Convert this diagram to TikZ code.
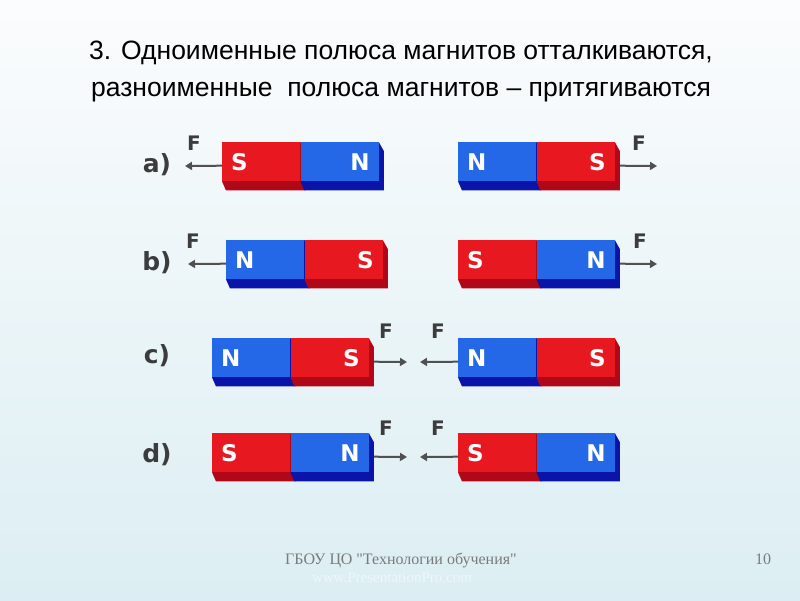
\documentclass[tikz,border=0pt]{standalone}
\usepackage{fontspec}
\setmainfont{Liberation Sans}
\newfontfamily\roundfont{DejaVu Sans}
\newfontfamily\footfont{Liberation Serif}
\usetikzlibrary{arrows.meta,calc,positioning}
\pgfdeclarelayer{bg}
\pgfsetlayers{bg,main}
\definecolor{magred}{HTML}{E81820}
\definecolor{magblue}{HTML}{2468E8}
\definecolor{darkred}{HTML}{B00818}
\definecolor{darkblue}{HTML}{0A14A8}
\definecolor{forcegray}{HTML}{505050}
\definecolor{labgray}{HTML}{3C3C3C}
\definecolor{bgtop}{HTML}{FBFCFD}
\definecolor{bgbot}{HTML}{DCEEF3}
\definecolor{footgray}{HTML}{7A7A7A}
\definecolor{wmark}{HTML}{EEF7FA}
\tikzset{
    every node/.style={inner sep=0pt},
    half/.style={minimum width=78pt, minimum height=39pt, inner xsep=9pt, text width=60pt,
        text=white, font=\roundfont\bfseries\fontsize{23}{23}\selectfont},
    redhalf/.style={half, fill=magred},
    bluehalf/.style={half, fill=magblue},
    force/.style={draw=forcegray, line width=2pt, -{Triangle[length=7pt,width=8pt]}},
    flabel/.style={font=\roundfont\bfseries\fontsize{20}{20}\selectfont, text=labgray},
    rowlabel/.style={font=\roundfont\bfseries\fontsize{25}{25}\selectfont, text=labgray}
}
\begin{document}
\begin{tikzpicture}[x=1pt, y=-1pt]
        \useasboundingbox (0,0) rectangle (800,600);
        % title
        \node (t1) [anchor=base, font=\fontsize{26.5}{26.5}\selectfont] at (401,59)
                {3. Одноименные полюса магнитов отталкиваются,};
        \node (t2) [anchor=base, font=\fontsize{26.5}{26.5}\selectfont] at (401,96)
                {разноименные \ полюса магнитов -- притягиваются};
        % row labels
        \node (la) [rowlabel] at (157,165) {a)};
        \node (lb) [rowlabel] at (157,263) {b)};
        \node (lc) [rowlabel] at (157,356) {c)};
        \node (ld) [rowlabel] at (157,455) {d)};
        % a)
        \node (aL1) [redhalf, align=left, anchor=north west] at (222,142) {S};
        \node (aL2) [bluehalf, align=right, right=0pt of aL1] {N};
        \node (aR1) [bluehalf, align=left, anchor=north west] at (458,142) {N};
        \node (aR2) [redhalf, align=right, right=0pt of aR1] {S};
        % b)
        \node (bL1) [bluehalf, align=left, anchor=north west] at (226,240) {N};
        \node (bL2) [redhalf, align=right, right=0pt of bL1] {S};
        \node (bR1) [redhalf, align=left, anchor=north west] at (458,240) {S};
        \node (bR2) [bluehalf, align=right, right=0pt of bR1] {N};
        % c)
        \node (cL1) [bluehalf, align=left, anchor=north west] at (212,338) {N};
        \node (cL2) [redhalf, align=right, right=0pt of cL1] {S};
        \node (cR1) [bluehalf, align=left, anchor=north west] at (458,338) {N};
        \node (cR2) [redhalf, align=right, right=0pt of cR1] {S};
        % d)
        \node (dL1) [redhalf, align=left, anchor=north west] at (212,433) {S};
        \node (dL2) [bluehalf, align=right, right=0pt of dL1] {N};
        \node (dR1) [redhalf, align=left, anchor=north west] at (458,433) {S};
        \node (dR2) [bluehalf, align=right, right=0pt of dR1] {N};
        % forces
        \coordinate (fa1) at (185,166);
        \coordinate (fa2) at (657,166);
        \coordinate (fb1) at (188,264);
        \coordinate (fb2) at (657,264);
        \coordinate (fc1) at (407,362);
        \coordinate (fc2) at (420,362);
        \coordinate (fd1) at (407,457);
        \coordinate (fd2) at (420,457);
        \node (Fa1) [flabel] at (194,143) {F};
        \node (Fa2) [flabel] at (639,143) {F};
        \node (Fb1) [flabel] at (193,241) {F};
        \node (Fb2) [flabel] at (640,241) {F};
        \node (Fc1) [flabel] at (386,331) {F};
        \node (Fc2) [flabel] at (438,331) {F};
        \node (Fd1) [flabel] at (386,428) {F};
        \node (Fd2) [flabel] at (438,428) {F};
        \draw[force] ([shift={(0,4)}]aL1.west) -- (fa1);
        \draw[force] ([shift={(5,4)}]aR2.east) -- (fa2);
        \draw[force] ([shift={(0,4)}]bL1.west) -- (fb1);
        \draw[force] ([shift={(5,4)}]bR2.east) -- (fb2);
        \draw[force] ([shift={(5,4)}]cL2.east) -- (fc1);
        \draw[force] ([shift={(0,4)}]cR1.west) -- (fc2);
        \draw[force] ([shift={(5,4)}]dL2.east) -- (fd1);
        \draw[force] ([shift={(0,4)}]dR1.west) -- (fd2);
        % footer
        \node (foot) [anchor=base, font=\footfont\fontsize{16}{16}\selectfont, text=footgray] at (401,564)
                {ГБОУ ЦО "Технологии обучения"};
        \node (page) [anchor=base, font=\footfont\fontsize{16}{16}\selectfont, text=footgray] at (763,564) {10};
        \node (www) [anchor=base, font=\footfont\fontsize{15}{15}\selectfont, text=wmark] at (392,582)
                {www.PresentationPro.com};
        \begin{pgfonlayer}{bg}
                \shade[top color=bgtop, bottom color=bgbot] (0,0) rectangle (800,600);
                \foreach \n/\c in {aL1/darkred, aL2/darkblue, aR1/darkblue, aR2/darkred,
                                   bL1/darkblue, bL2/darkred, bR1/darkred, bR2/darkblue,
                                   cL1/darkblue, cL2/darkred, cR1/darkblue, cR2/darkred,
                                   dL1/darkred, dL2/darkblue, dR1/darkred, dR2/darkblue}
                        \fill[\c] (\n.south west) -- ++(4,9) -| ($(\n.north east)+(5,9)$)
                                -- (\n.north east) -- cycle;
        \end{pgfonlayer}
\end{tikzpicture}
\end{document}
